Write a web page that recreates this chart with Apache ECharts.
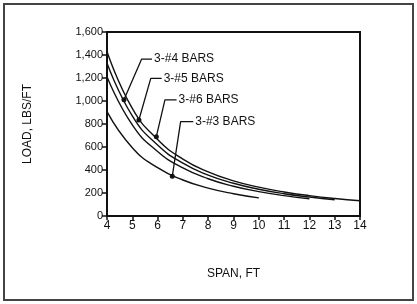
<!DOCTYPE html>
<html>
<head>
<meta charset="utf-8">
<script src="https://cdn.jsdelivr.net/npm/echarts@6/dist/echarts.min.js"></script>
<style>
  html, body { margin: 0; padding: 0; background: #fff; }
  #main { width: 417px; height: 304px; }
</style>
</head>
<body>
<div id="main"></div>
<script>
// span (ft) and load (lbs/ft) for each bar size
var spanA = [4, 5, 6, 7, 8, 9, 10, 11, 12, 13, 14];
var loadA = [1430, 936, 665, 495, 383, 306, 251, 209, 177, 152, 133];
var spanB = [4, 5, 6, 7, 8, 9, 10, 11, 12, 13];
var loadB = [1330, 870, 617, 459, 356, 285, 233, 194, 165, 141];
var spanC = [4, 5, 6, 7, 8, 9, 10, 11, 12];
var loadC = [1210, 792, 561, 418, 324, 259, 212, 177, 150];
var spanD = [4, 5, 6, 7, 8, 9, 10];
var loadD = [907, 594, 420, 313, 243, 194, 158];

// leader lines: tip on curve -> corner -> end of horizontal stub
var leaderNames = ['3-#4 BARS', '3-#5 BARS', '3-#6 BARS', '3-#3 BARS'];
var leaderX = [[4.67, 5.37, 5.78], [5.26, 5.73, 6.16], [5.95, 6.29, 6.75], [6.58, 6.91, 7.41]];
var leaderY = [[1010, 1365, 1365], [835, 1197, 1197], [690, 1009, 1009], [345, 820, 820]];

var xTicks = { min: 4, max: 14, interval: 1 };
var yTicks = { min: 0, max: 1600, interval: 200 };

function pairs(xs, ys) {
    return xs.map(function (x, i) { return [x, ys[i]]; });
}

var series = [];
[[spanA, loadA], [spanB, loadB], [spanC, loadC], [spanD, loadD]].forEach(function (c) {
    series.push({
        type: 'line',
        data: pairs(c[0], c[1]),
        smooth: true,
        showSymbol: false,
        lineStyle: { color: '#111', width: 1.4 }
    });
});
leaderNames.forEach(function (name, i) {
    series.push({
        type: 'line',
        name: name,
        data: pairs(leaderX[i], leaderY[i]),
        symbol: 'circle',
        symbolSize: function (v, p) { return p.dataIndex === 0 ? 5 : 0; },
        itemStyle: { color: '#111' },
        lineStyle: { color: '#111', width: 1.3 },
        endLabel: {
            show: true,
            formatter: name,
            distance: 2,
            color: '#111',
            fontFamily: 'Liberation Sans, Arial',
            fontSize: 12
        }
    });
});

var myChart = echarts.init(document.getElementById('main'));
var option = {
    animation: false,
    backgroundColor: '#fff',
    grid: {
        left: 107, right: 57, top: 32, bottom: 88,
        show: true, borderColor: '#111', borderWidth: 2
    },
    graphic: [{
        type: 'rect',
        shape: { x: 4, y: 4, width: 409, height: 296 },
        style: { fill: 'none', stroke: '#444', lineWidth: 2 }
    }],
    xAxis: {
        type: 'value',
        min: xTicks.min, max: xTicks.max, interval: xTicks.interval,
        name: 'SPAN, FT',
        nameLocation: 'middle',
        nameGap: 52,
        nameTextStyle: { color: '#111', fontFamily: 'Liberation Sans, Arial', fontSize: 12 },
        splitLine: { show: false },
        axisLine: { lineStyle: { color: '#111', width: 2 } },
        axisTick: { length: 4, lineStyle: { color: '#111', width: 1.5 } },
        axisLabel: { color: '#111', fontFamily: 'Liberation Sans, Arial', fontSize: 12, margin: 4 }
    },
    yAxis: {
        type: 'value',
        min: yTicks.min, max: yTicks.max, interval: yTicks.interval,
        name: 'LOAD, LBS/FT',
        nameLocation: 'middle',
        nameGap: 73,
        nameTextStyle: { color: '#111', fontFamily: 'Liberation Sans, Arial', fontSize: 12 },
        splitLine: { show: false },
        axisLine: { lineStyle: { color: '#111', width: 2 } },
        axisTick: { length: 5, lineStyle: { color: '#111', width: 1.5 } },
        axisLabel: {
            color: '#111', fontFamily: 'Liberation Sans, Arial', fontSize: 11, margin: 4,
            formatter: function (v) { return v.toLocaleString('en-US'); }
        }
    },
    series: series
};
myChart.setOption(option);
</script>
</body>
</html>
